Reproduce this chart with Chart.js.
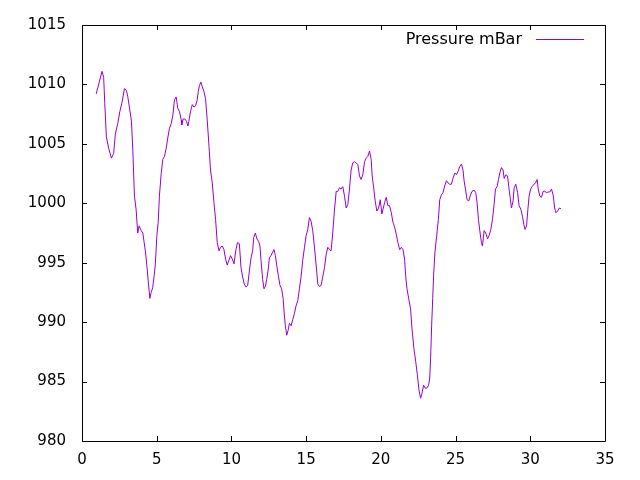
<!DOCTYPE html>
<html>
<head>
<meta charset="utf-8">
<script src="https://cdn.jsdelivr.net/npm/chart.js@4/dist/chart.umd.min.js"></script>
<style>
  html, body { margin: 0; padding: 0; background: #fff; }
  canvas { display: block; }
</style>
</head>
<body>
<canvas id="pressureChart" width="640" height="480"></canvas>
<script>
// time axis (days) and pressure readings
const days = [
  0.95, 1.34, 1.45, 1.52, 1.63, 1.79, 1.97, 2.12, 2.23, 2.39, 2.53, 2.68, 2.84, 2.97,
  3.06, 3.17, 3.31, 3.40, 3.51, 3.62, 3.73, 3.82, 3.96, 4.07, 4.16, 4.24, 4.36, 4.45,
  4.54, 4.63, 4.73, 4.83, 4.91, 5.01, 5.10, 5.18, 5.30, 5.41, 5.52, 5.63, 5.74, 5.85,
  5.97, 6.08, 6.19, 6.30, 6.41, 6.53, 6.64, 6.68, 6.77, 6.88, 6.99, 7.09, 7.15, 7.26,
  7.38, 7.49, 7.60, 7.71, 7.78, 7.86, 7.96, 8.05, 8.16, 8.27, 8.38, 8.50, 8.60, 8.72,
  8.83, 8.94, 9.05, 9.17, 9.27, 9.39, 9.50, 9.61, 9.72, 9.83, 9.94, 10.06, 10.17, 10.30,
  10.41, 10.53, 10.64, 10.75, 10.86, 10.98, 11.09, 11.20, 11.31, 11.42, 11.49, 11.60, 11.71, 11.82,
  11.91, 11.98, 12.09, 12.18, 12.27, 12.36, 12.45, 12.54, 12.65, 12.76, 12.85, 12.94, 13.03, 13.14,
  13.25, 13.36, 13.46, 13.54, 13.61, 13.70, 13.79, 13.88, 13.99, 14.10, 14.21, 14.33, 14.44, 14.55,
  14.66, 14.77, 14.89, 15.00, 15.11, 15.22, 15.33, 15.44, 15.55, 15.67, 15.78, 15.89, 16.00, 16.11,
  16.23, 16.34, 16.45, 16.56, 16.67, 16.78, 16.89, 17.01, 17.12, 17.23, 17.34, 17.45, 17.57, 17.68,
  17.79, 17.90, 18.01, 18.12, 18.23, 18.35, 18.46, 18.57, 18.68, 18.79, 18.91, 19.02, 19.13, 19.24,
  19.35, 19.42, 19.53, 19.62, 19.73, 19.85, 19.96, 20.07, 20.25, 20.36, 20.47, 20.58, 20.70, 20.81,
  20.92, 21.03, 21.14, 21.26, 21.37, 21.48, 21.59, 21.66, 21.75, 21.86, 21.99, 22.08, 22.21, 22.33,
  22.44, 22.55, 22.66, 22.75, 22.86, 22.97, 23.08, 23.20, 23.27, 23.33, 23.40, 23.47, 23.53, 23.62,
  23.74, 23.85, 23.94, 24.05, 24.16, 24.27, 24.39, 24.50, 24.61, 24.72, 24.83, 24.95, 25.06, 25.17,
  25.28, 25.39, 25.50, 25.57, 25.66, 25.77, 25.88, 26.00, 26.10, 26.24, 26.35, 26.44, 26.53, 26.62,
  26.73, 26.80, 26.91, 27.02, 27.14, 27.25, 27.36, 27.47, 27.58, 27.67, 27.78, 27.87, 27.96, 28.07,
  28.18, 28.25, 28.37, 28.48, 28.56, 28.65, 28.74, 28.85, 28.92, 29.03, 29.15, 29.25, 29.37, 29.48,
  29.57, 29.65, 29.75, 29.84, 29.92, 30.02, 30.12, 30.24, 30.35, 30.46, 30.53, 30.64, 30.75, 30.86,
  30.97, 31.09, 31.20, 31.31, 31.42, 31.53, 31.63, 31.72, 31.83, 31.94, 32.05
];
const pressure = [
  1009.2, 1011.1, 1010.6, 1008.5, 1005.6, 1004.6, 1003.8, 1004.2, 1005.8, 1006.7, 1007.7, 1008.5, 1009.65, 1009.5,
  1009.0, 1008.1, 1006.9, 1004.5, 1000.6, 999.5, 997.5, 998.1, 997.7, 997.5, 996.7, 996.0, 994.5, 993.2,
  992.0, 992.5, 992.9, 993.9, 994.9, 997.3, 998.4, 1000.6, 1002.5, 1003.7, 1003.95, 1004.6, 1005.5, 1006.3,
  1006.7, 1007.4, 1008.7, 1008.95, 1008.0, 1007.7, 1007.0, 1006.6, 1007.1, 1007.1, 1006.9, 1006.5, 1006.9, 1007.7,
  1008.3, 1008.1, 1008.2, 1008.7, 1009.4, 1009.9, 1010.2, 1009.8, 1009.4, 1008.8, 1007.0, 1004.8, 1002.8, 1001.7,
  1000.05, 998.65, 996.7, 996.0, 996.3, 996.4, 996.1, 995.3, 994.8, 995.2, 995.6, 995.3, 994.9, 996.1,
  996.7, 996.6, 994.6, 993.8, 993.2, 992.95, 993.1, 994.3, 995.4, 996.0, 997.1, 997.5, 997.0, 996.8,
  996.4, 995.2, 993.6, 992.8, 993.0, 993.6, 994.3, 995.4, 995.6, 995.9, 996.1, 995.6, 994.8, 993.9,
  993.1, 992.8, 992.0, 990.6, 989.7, 988.9, 989.3, 989.9, 989.7, 990.2, 990.7, 991.4, 991.8, 992.8,
  993.8, 995.2, 996.3, 997.3, 997.8, 998.8, 998.5, 997.7, 996.4, 994.8, 993.2, 993.0, 993.1, 993.8,
  994.6, 995.7, 996.3, 996.1, 996.0, 997.5, 999.35, 1001.0, 1001.0, 1001.3, 1001.2, 1001.4, 1000.6, 999.6,
  999.9, 1001.2, 1002.8, 1003.4, 1003.5, 1003.4, 1003.25, 1002.3, 1002.0, 1002.4, 1003.5, 1003.8, 1003.95, 1004.4,
  1003.7, 1002.3, 1001.2, 1000.2, 999.35, 999.6, 1000.3, 999.1, 1000.05, 1000.5, 999.8, 999.8, 999.2, 998.4,
  998.0, 997.4, 996.7, 996.1, 996.3, 996.1, 995.3, 993.9, 992.8, 992.0, 991.1, 989.5, 987.8, 986.7,
  985.6, 984.3, 983.6, 984.0, 984.7, 984.45, 984.45, 984.7, 985.3, 987.0, 989.75, 992.0, 993.9, 995.9,
  997.3, 998.65, 1000.3, 1000.7, 1000.9, 1001.45, 1001.9, 1001.7, 1001.6, 1001.6, 1002.1, 1002.55, 1002.4, 1002.7,
  1003.1, 1003.3, 1002.8, 1001.9, 1001.2, 1000.3, 1000.2, 1000.7, 1001.0, 1001.1, 1000.9, 1000.05, 998.65, 997.7,
  996.7, 996.4, 997.7, 997.5, 997.0, 997.3, 997.8, 998.65, 999.9, 1001.2, 1001.4, 1002.0, 1002.55, 1003.0,
  1002.8, 1002.1, 1002.4, 1002.3, 1001.4, 1000.5, 999.6, 1000.2, 1001.3, 1001.6, 1000.9, 999.8, 999.5, 998.9,
  998.2, 997.8, 998.1, 999.5, 1000.6, 1001.2, 1001.4, 1001.6, 1001.7, 1002.0, 1001.2, 1000.6, 1000.5, 1001.0,
  1001.0, 1000.9, 1000.95, 1000.95, 1001.2, 1000.7, 999.6, 999.2, 999.35, 999.6, 999.55
];
const seriesName = 'Pressure mBar';
const xRange = [0, 35];
const yRange = [980, 1015];
const tickStep = 5;

const lineColor = '#9400d3';
const fontFamily = '"DejaVu Sans", sans-serif';
const fontSize = 15;

// gnuplot style box with inward ticks on all four sides + key in top right
const frameAndKey = {
  id: 'frameAndKey',
  afterDraw(chart) {
    const ctx = chart.ctx;
    const a = chart.chartArea;
    const xs = chart.scales.x;
    const ys = chart.scales.y;
    const tick = 5;
    ctx.save();
    ctx.strokeStyle = '#000';
    ctx.lineWidth = 1;
    ctx.beginPath();
    ctx.rect(Math.round(a.left) + 0.5, Math.round(a.top) + 0.5,
             Math.round(a.right - a.left), Math.round(a.bottom - a.top));
    xs.ticks.forEach(t => {
      const px = Math.round(xs.getPixelForValue(t.value)) + 0.5;
      ctx.moveTo(px, a.bottom);
      ctx.lineTo(px, a.bottom - tick);
      ctx.moveTo(px, a.top);
      ctx.lineTo(px, a.top + tick);
    });
    ys.ticks.forEach(t => {
      const py = Math.round(ys.getPixelForValue(t.value)) + 0.5;
      ctx.moveTo(a.left, py);
      ctx.lineTo(a.left + tick, py);
      ctx.moveTo(a.right, py);
      ctx.lineTo(a.right - tick, py);
    });
    ctx.stroke();

    // key
    const ky = a.top + 14.5;
    ctx.font = '16px ' + fontFamily;
    ctx.fillStyle = '#000';
    ctx.textAlign = 'right';
    ctx.textBaseline = 'middle';
    ctx.fillText(seriesName, a.right - 83, ky);
    ctx.strokeStyle = lineColor;
    ctx.beginPath();
    ctx.moveTo(a.right - 69, ky);
    ctx.lineTo(a.right - 21, ky);
    ctx.stroke();
    ctx.restore();
  }
};

const points = days.map((d, i) => ({ x: d, y: pressure[i] }));

new Chart(document.getElementById('pressureChart'), {
  type: 'line',
  data: {
    datasets: [{
      label: seriesName,
      data: points,
      borderColor: lineColor,
      borderWidth: 1,
      pointRadius: 0,
      tension: 0,
      fill: false
    }]
  },
  options: {
    responsive: false,
    animation: false,
    devicePixelRatio: 1,
    layout: { padding: { top: 22, right: 35, left: 0, bottom: 0 } },
    plugins: {
      legend: { display: false },
      tooltip: { enabled: false }
    },
    scales: {
      x: {
        type: 'linear',
        min: xRange[0],
        max: xRange[1],
        grid: { display: false, drawTicks: false },
        border: { display: false },
        ticks: {
          stepSize: tickStep,
          color: '#000',
          padding: 10,
          maxRotation: 0,
          font: { family: fontFamily, size: fontSize },
          callback: v => String(v)
        },
        afterFit(scale) { scale.height = 39; }
      },
      y: {
        type: 'linear',
        min: yRange[0],
        max: yRange[1],
        grid: { display: false, drawTicks: false },
        border: { display: false },
        ticks: {
          stepSize: tickStep,
          color: '#000',
          padding: 16,
          font: { family: fontFamily, size: fontSize },
          callback: v => String(v)
        },
        afterFit(scale) { scale.width = 82; }
      }
    }
  },
  plugins: [frameAndKey]
});
</script>
</body>
</html>
